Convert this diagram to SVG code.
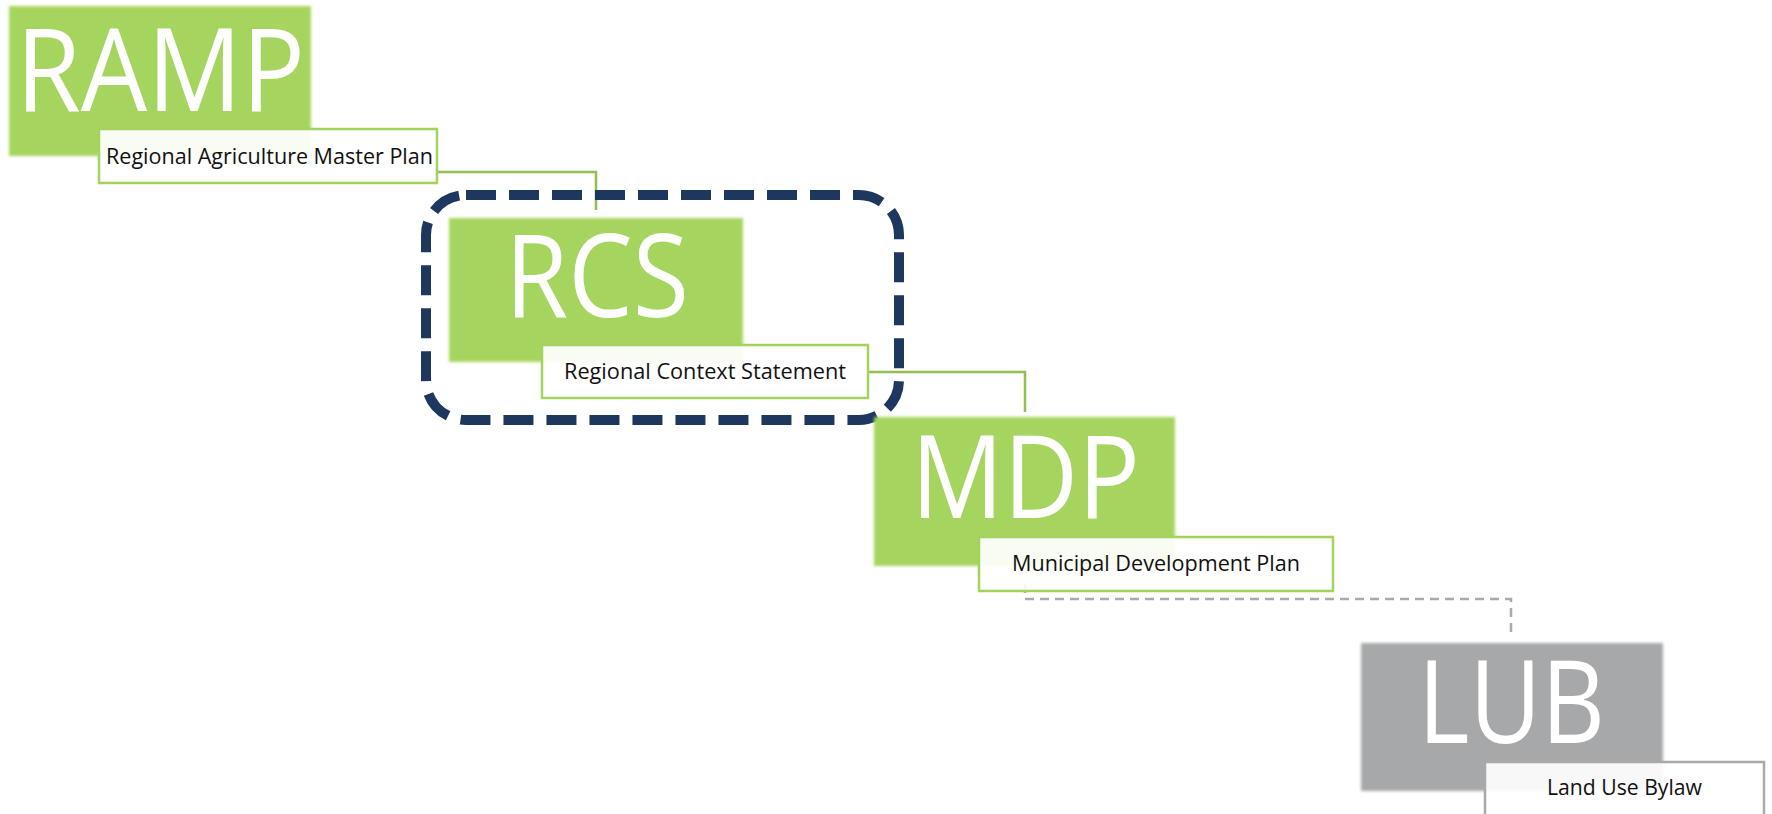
<svg xmlns="http://www.w3.org/2000/svg" width="1772" height="814" viewBox="0 0 1772 814">
<style>
.gbox{fill:#a6d55f;filter:url(#soft)}
.xbox{fill:#a7a8aa;filter:url(#soft)}
.big{font-family:"Open Sans","Liberation Sans",sans-serif;font-size:115px;fill:#ffffff}
.lbl{fill:#ffffff;fill-opacity:0.92;stroke:#a3d35c;stroke-width:2.5}
.lblg{fill:#ffffff;fill-opacity:0.92;stroke:#a9a9a9;stroke-width:2.5}
.small{font-family:"Open Sans","Liberation Sans",sans-serif;font-size:22px;fill:#111111}
.conn{fill:none;stroke:#8fc050;stroke-width:2.5}
.connd{fill:none;stroke:#aaaaaa;stroke-width:2.5;stroke-dasharray:9 6}
</style>
<defs>
<filter id="soft" x="-5%" y="-5%" width="110%" height="110%"><feGaussianBlur stdDeviation="1.6"/></filter>
</defs>
<g id="connectors">
<polyline class="conn" points="437,172 596,172 596,210"/>
<polyline class="conn" points="868,372 1025,372 1025,412"/>
<polyline class="connd" points="1025,584 1025,599 1511,599 1511,637"/>
</g>
<g id="ramp">
<rect class="gbox" x="9" y="6" width="302" height="150"/>
<text class="big" x="16" y="111" textLength="289" lengthAdjust="spacingAndGlyphs">RAMP</text>
<rect class="lbl" x="99" y="129" width="338" height="54"/>
<text class="small" x="106" y="164" textLength="327" lengthAdjust="spacingAndGlyphs">Regional Agriculture Master Plan</text>
</g>
<g id="rcs-group">
<rect x="426" y="195" width="473" height="225" rx="40" ry="40" fill="none" stroke="#1d375e" stroke-width="10" stroke-dasharray="30 13"/>
</g>
<g id="rcs">
<rect class="gbox" x="449" y="218" width="294" height="144"/>
<text class="big" x="505" y="317" textLength="184" lengthAdjust="spacingAndGlyphs">RCS</text>
<rect class="lbl" x="542" y="345" width="326" height="53"/>
<text class="small" x="564" y="379" textLength="282" lengthAdjust="spacingAndGlyphs">Regional Context Statement</text>
</g>
<g id="mdp">
<rect class="gbox" x="874" y="417" width="301" height="149"/>
<text class="big" x="911" y="518" textLength="229" lengthAdjust="spacingAndGlyphs">MDP</text>
<rect class="lbl" x="979" y="537" width="354" height="54"/>
<text class="small" x="1012" y="571" textLength="288" lengthAdjust="spacingAndGlyphs">Municipal Development Plan</text>
</g>
<g id="lub">
<rect class="xbox" x="1361" y="643" width="302" height="148"/>
<text class="big" x="1418" y="743" textLength="187" lengthAdjust="spacingAndGlyphs">LUB</text>
<rect class="lblg" x="1485" y="762" width="279" height="70"/>
<text class="small" x="1547" y="795" textLength="155" lengthAdjust="spacingAndGlyphs">Land Use Bylaw</text>
</g>
</svg>
